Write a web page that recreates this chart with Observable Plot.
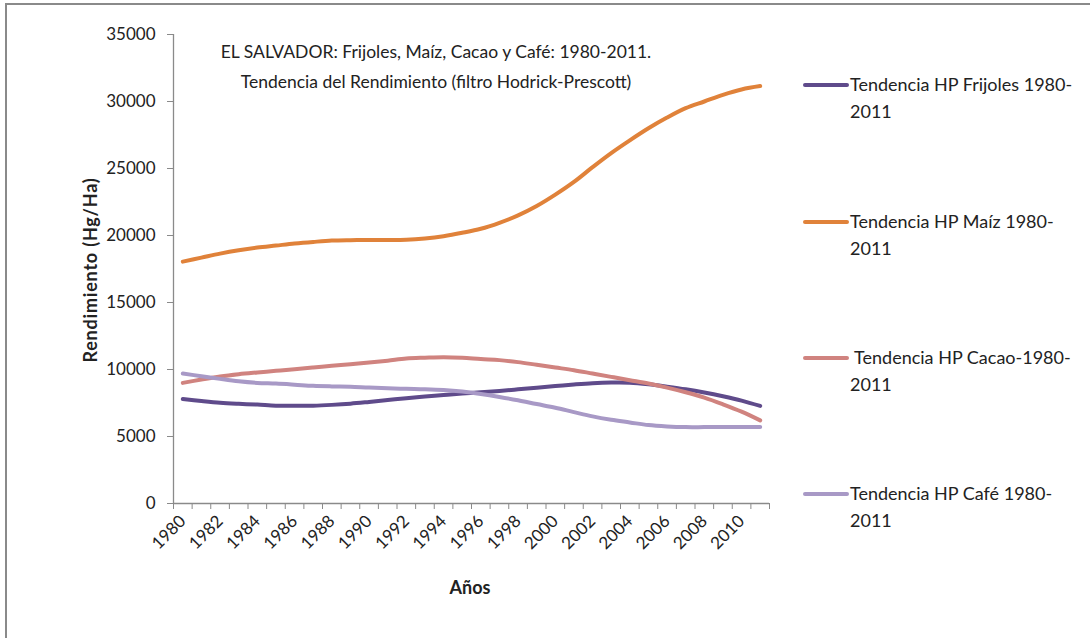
<!DOCTYPE html>
<html>
<head>
<meta charset="utf-8">
<script src="https://cdn.jsdelivr.net/npm/d3@7"></script>
<script src="https://cdn.jsdelivr.net/npm/@observablehq/plot@0.6"></script>
<style>
  html, body { margin:0; padding:0; background:#fff; overflow:hidden; }
  body { width:1090px; height:638px; position:relative; font-family: Lato, sans-serif; color:#222; }
  #frame { position:absolute; left:5px; top:3px; width:1200px; height:800px; border:2px solid #8a8a8a; box-sizing:border-box; }
  #chart { position:absolute; left:0; top:0; }
  .t { position:absolute; white-space:nowrap; }
  .title { font-size:17.5px; text-align:center; width:700px; left:86px; }
  .axt { font-weight:bold; font-size:18px; }
  .leg { position:absolute; left:803px; }
  .leg .sw { position:absolute; left:0; width:46px; height:4px; top:-2px; border-radius:2px; }
  .leg .lab { position:absolute; left:47px; top:-14px; font-size:18px; line-height:27px; white-space:nowrap; }
</style>
</head>
<body>
<div id="frame"></div>
<div id="chart"></div>
<script>
const years = [1980,1981,1982,1983,1984,1985,1986,1987,1988,1989,1990,1991,1992,1993,1994,1995,1996,1997,1998,1999,2000,2001,2002,2003,2004,2005,2006,2007,2008,2009,2010,2011];
const seriesNames = ["Tendencia HP Frijoles 1980-2011","Tendencia HP Maíz 1980-2011","Tendencia HP Cacao-1980-2011","Tendencia HP Café 1980-2011"];
const legendLines = [["Tendencia HP Frijoles 1980-","2011"],["Tendencia HP Maíz 1980-","2011"],["\u00a0Tendencia HP Cacao-1980-","2011"],["Tendencia HP Café 1980-","2011"]];
const seriesColors = ["#5f4b8b","#e0823a","#d0837f","#a899c6"];
const frijoles = [7800,7650,7520,7440,7380,7300,7290,7300,7360,7450,7580,7720,7860,7980,8100,8210,8300,8400,8520,8640,8760,8880,8980,9030,9020,8900,8720,8520,8280,8000,7680,7280];
const maiz = [18050,18350,18650,18900,19100,19250,19400,19520,19620,19650,19660,19660,19680,19780,19950,20200,20500,20950,21500,22200,23050,24000,25100,26150,27100,28000,28800,29500,30000,30500,30900,31150];
const cacao = [9000,9250,9480,9650,9780,9900,10020,10150,10280,10400,10520,10660,10820,10880,10920,10880,10780,10700,10550,10350,10150,9950,9700,9450,9200,8950,8650,8300,7900,7400,6850,6200];
const cafe = [9700,9500,9300,9120,9000,8950,8870,8780,8740,8720,8650,8600,8560,8530,8470,8350,8170,7950,7700,7420,7150,6820,6500,6250,6050,5850,5750,5700,5700,5700,5700,5700];
const yTicks = [0,5000,10000,15000,20000,25000,30000,35000];
const xTickLabels = [1980,1982,1984,1986,1988,1990,1992,1994,1996,1998,2000,2002,2004,2006,2008,2010];
const titleLines = ["EL SALVADOR: Frijoles, Maíz, Cacao y Café: 1980-2011.","Tendencia del Rendimiento (filtro Hodrick-Prescott)"];
const yLabel = "Rendimiento  (Hg/Ha)";
const xLabel = "Años";

const allSeries = [frijoles, maiz, cacao, cafe];
const table = [];
allSeries.forEach((vals, k) => vals.forEach((v, i) => table.push({series: seriesNames[k], year: years[i], value: v})));
const boundaries = years.map(y => y - 0.5).concat([years[years.length-1] + 0.5]);

const font = 'Lato, sans-serif';
const chart = Plot.plot({
  width: 1090, height: 638,
  marginLeft: 173, marginRight: 321, marginTop: 34, marginBottom: 135,
  style: {fontFamily: font, fontSize: "17px", color: "#222", background: "transparent", overflow: "visible"},
  x: {type: "linear", domain: [boundaries[0], boundaries[boundaries.length-1]]},
  y: {domain: [0, 35000]},
  color: {domain: seriesNames, range: seriesColors},
  marks: [
    Plot.axisY({ticks: yTicks, tickSize: 6, tickPadding: 12, tickFormat: d => String(d), label: null, stroke: "#8a8a8a", fill: "#222", fontSize: 17}),
    Plot.axisX({ticks: boundaries, tickSize: 6, tickFormat: () => "", label: null, stroke: "#8a8a8a"}),
    Plot.axisX({ticks: xTickLabels, tickSize: 0, tickRotate: -45, tickPadding: 15, tickFormat: d => String(d), label: null, fill: "#222", fontSize: 17}),
    Plot.ruleX([boundaries[0]], {stroke: "#8a8a8a", strokeWidth: 1.3}),
    Plot.ruleY([0], {stroke: "#8a8a8a", strokeWidth: 1.3}),
    Plot.line(table, {x: "year", y: "value", stroke: "series", z: "series", strokeWidth: 4, curve: "catmull-rom"})
  ]
});
document.getElementById("chart").appendChild(chart);

const body = document.body;
function addText(cls, txt, css) {
  const d = document.createElement("div");
  d.className = "t " + cls;
  d.textContent = txt;
  Object.assign(d.style, css);
  body.appendChild(d);
  return d;
}
addText("title", titleLines[0], {top: "41px"});
addText("title", titleLines[1], {top: "71px"});
addText("axt", xLabel, {left: "470px", top: "587px", transform: "translate(-50%,-50%)"});
addText("axt", yLabel, {left: "90px", top: "270px", transform: "translate(-50%,-50%) rotate(-90deg)", letterSpacing: "0.8px"});

const legendY = [85, 222, 358, 494];
legendLines.forEach((lines, k) => {
  const g = document.createElement("div");
  g.className = "leg";
  g.style.top = legendY[k] + "px";
  const sw = document.createElement("div");
  sw.className = "sw";
  sw.style.background = seriesColors[k];
  const lab = document.createElement("div");
  lab.className = "lab";
  lab.innerHTML = lines.join("<br>");
  g.appendChild(sw); g.appendChild(lab);
  body.appendChild(g);
});
</script>
</body>
</html>
